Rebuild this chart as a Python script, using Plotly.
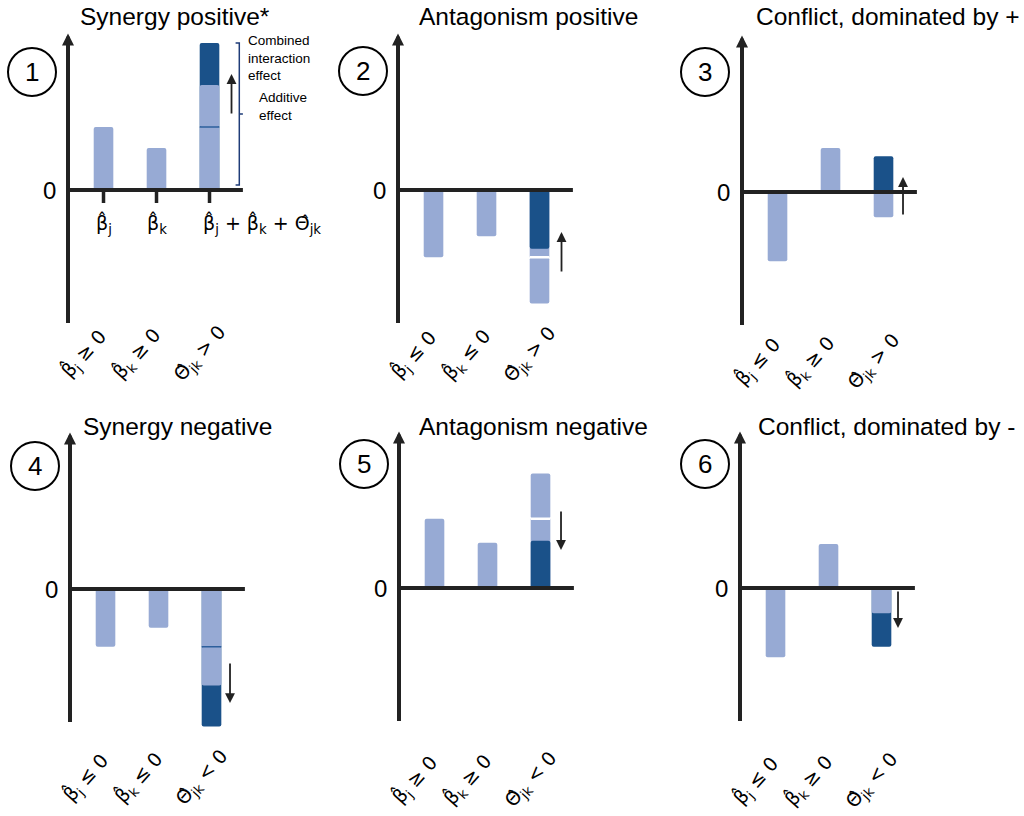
import plotly.graph_objects as go

W, H = 1024, 816

# ---------------- data ----------------
titles = [
    "Synergy positive*",
    "Antagonism positive",
    "Conflict, dominated by +",
    "Synergy negative",
    "Antagonism negative",
    "Conflict, dominated by -",
]
panel_numbers = ["1", "2", "3", "4", "5", "6"]

beta_j = [3.0, -3.2, -3.3, -2.75, 3.3, -3.3]
beta_k = [2.0, -2.2, 2.1, -1.85, 2.15, 2.1]
theta = [2.0, 2.6, 2.9, -1.95, -3.2, -1.6]

beta_j_signs = ["≥", "≤", "≤", "≤", "≥", "≤"]
beta_k_signs = ["≥", "≤", "≥", "≤", "≥", "≥"]
theta_signs = [">", ">", ">", "<", "<", "<"]

term_labels = [
    "β̂<sub>j</sub>",
    "β̂<sub>k</sub>",
    "β̂<sub>j</sub> + β̂<sub>k</sub> + Θ̂<sub>jk</sub>",
]
bracket_labels = ["Combined<br>interaction<br>effect", "Additive<br>effect"]

# ---------------- geometry & style ----------------
AXIS_X = [68, 398, 742, 70, 399, 740]      # left edge (y axis) of each panel, px
ZERO_Y = [190, 190, 192, 589, 588, 588]    # pixel row of the zero line
PX_X = 53.0                                # px per category step
PX_Y = 21.0                                # px per value unit
X_RANGE = [-0.67, 2.63]
Y_RANGE = [-7.6, 8.2]
AXIS_TOP, AXIS_BOTTOM = 7.45, -6.4
BAR_W = 0.37

ARROW_DX_PX = [22, 22, 19.5, 18.5, 20.5, 16.5]
ARROW_FROM = [3.57, -3.95, -1.14, -3.48, 3.71, -0.1]
ARROW_TO = [5.52, -2.0, 0.71, -5.43, 1.81, -1.9]

CIRCLES = [(32, 72), (363, 71), (705, 72), (35, 466), (364, 464), (705, 464)]
CIRCLE_R = 24
TITLE_POS = [(175, 16.5), (528, 16.5), (888, 16.5), (177, 426.5), (533, 426.5), (886, 426.5)]
LABEL_DX = [-20, -20, -10]
LABEL_Y = [354, 355, 362, 778, 780, 781]

LIGHT = "#97aad4"
DARK = "#1a5189"
INK = "#222222"
BRACKET_DARK = "#1f3c78"
BRACKET_LIGHT = "#a9c0ea"
SANS = "Liberation Sans, Arial, sans-serif"
MATH_SANS = "DejaVu Sans, sans-serif"


def px_x(p):
    return p / W


def px_y(p):
    return 1 - p / H


fig = go.Figure()
layout = dict(
    width=W, height=H, margin=dict(l=0, r=0, t=0, b=0),
    paper_bgcolor="white", plot_bgcolor="rgba(0,0,0,0)",
    showlegend=False, barmode="overlay",
)
shapes, annotations = [], []


def add_bar(xa, ya, x, y, base, color, radius=2):
    fig.add_trace(go.Bar(
        x=[x], y=[y], base=[base], width=BAR_W, xaxis=xa, yaxis=ya,
        marker=dict(color=color, line=dict(width=0), cornerradius=radius),
        hoverinfo="skip",
    ))


for i in range(6):
    k = "" if i == 0 else str(i + 1)
    xa, ya = "x" + k, "y" + k
    x0 = AXIS_X[i]
    x1 = x0 + PX_X * (X_RANGE[1] - X_RANGE[0])
    top = ZERO_Y[i] - PX_Y * Y_RANGE[1]
    bot = ZERO_Y[i] - PX_Y * Y_RANGE[0]
    layout["xaxis" + k] = dict(domain=[px_x(x0), px_x(x1)], range=X_RANGE,
                              visible=False, anchor=ya, fixedrange=True)
    layout["yaxis" + k] = dict(domain=[px_y(bot), px_y(top)], range=Y_RANGE,
                              visible=False, anchor=xa, fixedrange=True)

    bj, bk, th = beta_j[i], beta_k[i], theta[i]
    s = bj + bk
    total = s + th
    dark_behind = s * total > 0 and abs(total) > abs(s)
    stacked = bj * bk > 0

    if dark_behind:
        add_bar(xa, ya, 2, total, 0, DARK)
    add_bar(xa, ya, 0, bj, 0, LIGHT)
    add_bar(xa, ya, 1, bk, 0, LIGHT)
    if stacked:
        add_bar(xa, ya, 2, bj, 0, LIGHT, radius=0)
        add_bar(xa, ya, 2, bk, bj, LIGHT)
    else:
        add_bar(xa, ya, 2, s, 0, LIGHT)
    if not dark_behind:
        add_bar(xa, ya, 2, total, 0, DARK)

    # boundary between the two stacked coefficient segments
    if stacked:
        synergy = th * s > 0
        shapes.append(dict(
            type="line", xref=xa, yref=ya, x0=2 - BAR_W / 2, x1=2 + BAR_W / 2,
            y0=bj, y1=bj,
            line=dict(color="#2d5f9c" if synergy else "white", width=1.5 if synergy else 2.5),
        ))

    # zero line
    shapes.append(dict(type="line", xref=xa + " domain", yref=ya, x0=0, x1=1, y0=0, y1=0,
                       line=dict(color=INK, width=4)))
    # vertical axis with arrow head
    annotations.append(dict(
        xref=xa + " domain", yref=ya, x=0, y=AXIS_TOP,
        axref=xa + " domain", ayref=ya, ax=0, ay=AXIS_BOTTOM,
        showarrow=True, arrowhead=2, arrowwidth=4, arrowsize=0.6,
        arrowcolor=INK, text="",
    ))
    # direction of the interaction effect
    adx = 2 + ARROW_DX_PX[i] / PX_X
    annotations.append(dict(
        xref=xa, yref=ya, x=adx, y=ARROW_TO[i],
        axref=xa, ayref=ya, ax=adx, ay=ARROW_FROM[i],
        showarrow=True, arrowhead=2, arrowwidth=1.8, arrowsize=1.1,
        arrowcolor=INK, text="",
    ))
    # zero tick label
    annotations.append(dict(
        xref="paper", yref=ya, x=px_x(x0 - 19), y=0, text="0", showarrow=False,
        xanchor="center", yanchor="middle", font=dict(family=SANS, size=24, color="black"),
    ))
    # title
    tx, ty = TITLE_POS[i]
    annotations.append(dict(
        xref="paper", yref="paper", x=px_x(tx), y=px_y(ty), text=titles[i],
        showarrow=False, xanchor="center", yanchor="middle",
        font=dict(family=SANS, size=24.5, color="black"),
    ))
    # panel number in a circle
    cx, cy = CIRCLES[i]
    shapes.append(dict(type="circle", xref="paper", yref="paper",
                       x0=px_x(cx - CIRCLE_R), x1=px_x(cx + CIRCLE_R),
                       y0=px_y(cy + CIRCLE_R), y1=px_y(cy - CIRCLE_R),
                       line=dict(color="black", width=2)))
    annotations.append(dict(
        xref="paper", yref="paper", x=px_x(cx), y=px_y(cy), text=panel_numbers[i],
        showarrow=False, xanchor="center", yanchor="middle",
        font=dict(family=SANS, size=26, color="black"),
    ))
    # rotated condition labels
    conds = [
        f"β̂<sub>j</sub> {beta_j_signs[i]} 0",
        f"β̂<sub>k</sub> {beta_k_signs[i]} 0",
        f"Θ̂<sub>jk</sub> {theta_signs[i]} 0",
    ]
    for c, txt in enumerate(conds):
        cat_px = x0 + PX_X * (c - X_RANGE[0])
        annotations.append(dict(
            xref="paper", yref="paper", x=px_x(cat_px + LABEL_DX[c]), y=px_y(LABEL_Y[i]),
            text=txt, showarrow=False, textangle=-48,
            xanchor="center", yanchor="middle",
            font=dict(family=MATH_SANS, size=19, color="black"),
        ))

    if i == 0:
        # category ticks and term labels
        for c in range(3):
            shapes.append(dict(type="line", xref=xa, yref=ya, x0=c, x1=c, y0=0, y1=-0.62,
                               line=dict(color=INK, width=3.5)))
        for c, txt in enumerate(term_labels):
            annotations.append(dict(
                xref=xa, yref=ya, x=c if c < 2 else 2 - 0.17, y=-1.6, text=txt,
                showarrow=False, xanchor="center" if c < 2 else "left", yanchor="middle",
                font=dict(family=MATH_SANS, size=19, color="black"),
            ))
        # brackets: combined effect (0..total) and additive effect (0..sum)
        for (xb, ytop, col) in [(2.562, total, BRACKET_DARK), (2.783, s, BRACKET_LIGHT)]:
            y0b, y1b = 0.24, ytop
            tk = 0.07
            mid = (y0b + y1b) / 2
            path = (f"M {xb - tk},{y1b} L {xb},{y1b} L {xb},{y0b} L {xb - tk},{y0b} "
                    f"M {xb},{mid} L {xb + tk},{mid}")
            shapes.append(dict(type="path", xref=xa, yref=ya, path=path,
                               line=dict(color=col, width=1.5)))
        annotations.append(dict(
            xref="paper", yref="paper", x=px_x(246), y=px_y(31), text=bracket_labels[0],
            showarrow=False, xanchor="left", yanchor="top", align="left",
            font=dict(family=SANS, size=13.5, color="black"),
        ))
        annotations.append(dict(
            xref="paper", yref="paper", x=px_x(257), y=px_y(88), text=bracket_labels[1],
            showarrow=False, xanchor="left", yanchor="top", align="left",
            font=dict(family=SANS, size=13.5, color="black"),
        ))

layout["shapes"] = shapes
layout["annotations"] = annotations
fig.update_layout(**layout)
fig.write_html("out.html")
